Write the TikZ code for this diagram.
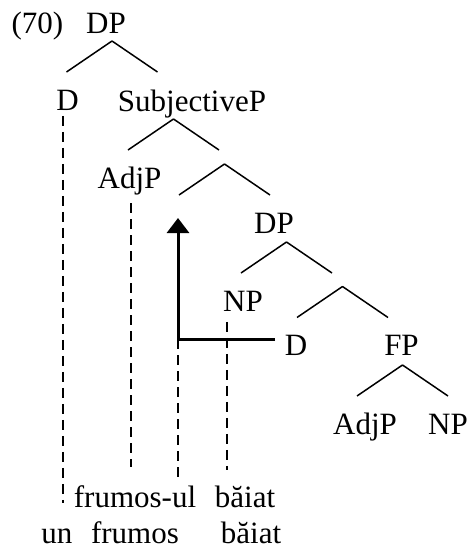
\documentclass[tikz,border=0pt]{standalone}
\usepackage{fontspec}
\setmainfont{Liberation Serif}
\usetikzlibrary{arrows.meta}

\tikzset{
	lbl/.style={anchor=base, inner sep=0pt, font=\fontsize{31}{36}\selectfont},
	link/.style={line width=2.3pt, dash pattern=on 10pt off 6pt},
	move/.style={line width=3pt, -{Triangle[length=15pt, width=22pt]}}
}

\begin{document}
\begin{tikzpicture}[x=1pt, y=-1pt, line width=1.5pt]
		\useasboundingbox (0,0) rectangle (470,549);
		\def\bx{45.5}
		\def\by{31}
		% labels
		\node[lbl] (ex) at (37.5, 33) {(70)};
		\node[lbl] (dp1) at (106, 33) {DP};
		\node[lbl] (d1) at (67.5, 110) {D};
		\node[lbl] (subj) at (192, 111) {SubjectiveP};
		\node[lbl] (adjp1) at (129.5, 188) {AdjP};
		\node[lbl] (dp2) at (274, 233) {DP};
		\node[lbl] (np1) at (243, 311) {NP};
		\node[lbl] (d2) at (296, 355) {D};
		\node[lbl] (fp) at (401.5, 355) {FP};
		\node[lbl] (adjp2) at (365, 434) {AdjP};
		\node[lbl] (np2) at (448, 434) {NP};
		% words
		\node[lbl] (w1) at (135, 507) {frumos-ul};
		\node[lbl] (w2) at (245, 507) {băiat};
		\node[lbl] (w3) at (57, 543) {un};
		\node[lbl] (w4) at (135, 543) {frumos};
		\node[lbl] (w5) at (251, 543) {băiat};
		% branching points
		\coordinate (b1) at (112, 41);
		\coordinate (b2) at (173.5, 119);
		\coordinate (b3) at (224.5, 164);
		\coordinate (b4) at (286.5, 242);
		\coordinate (b5) at (342.5, 286.5);
		\coordinate (b6) at (402.5, 365);
		\foreach \b in {b1, b2, b3, b4, b5, b6}
			\draw (\b) -- ++(-\bx, \by) (\b) -- ++(\bx, \by);
		% movement
		\coordinate (mv) at (275, 339);
		\coordinate (spec) at (178, 218);
		\coordinate (turn) at (178, 339);
		\draw[move] (mv) -| (spec);
		% dashed links
		\coordinate (e1) at (63, 503);
		\coordinate (e2) at (131, 467);
		\coordinate (e3) at (178, 479);
		\coordinate (e4) at (227, 470);
		\draw[link] ([xshift=-4.5pt]d1.south) ++(0, 5) -- (e1);
		\draw[link] (adjp1.south -| e2) ++(0, 8) -- (e2);
		\draw[link] (turn) -- (e3);
		\draw[link] (np1.south -| e4) ++(0, 10) -- (e4);
	\end{tikzpicture}
\end{document}
